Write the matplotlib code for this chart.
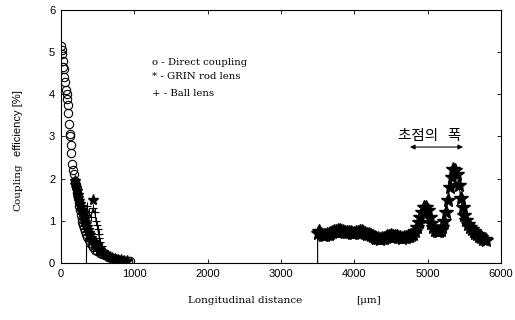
import matplotlib
matplotlib.use("Agg")
import matplotlib.pyplot as plt

# Direct coupling (open circles)
direct_x = [5, 10, 15, 25, 30, 40, 50, 60, 70, 80, 85, 95, 100, 110, 120, 125, 140, 145,
            155, 170, 180, 195, 205, 215, 225, 235, 245, 255, 265, 275, 285, 295, 305,
            315, 330, 345, 360, 380, 400, 420, 445, 470, 500, 530, 560, 600, 640, 680,
            720, 760, 800, 840, 880, 920, 950]
direct_y = [5.15, 5.05, 4.95, 4.8, 4.65, 4.6, 4.4, 4.3, 4.1, 4.0, 3.9, 3.75, 3.55, 3.3,
            3.05, 3.0, 2.8, 2.6, 2.35, 2.2, 2.1, 1.95, 1.85, 1.75, 1.65, 1.55, 1.45, 1.35,
            1.25, 1.15, 1.05, 0.97, 0.9, 0.83, 0.75, 0.68, 0.62, 0.55, 0.48, 0.42, 0.37,
            0.32, 0.28, 0.24, 0.21, 0.18, 0.15, 0.13, 0.11, 0.1, 0.08, 0.07, 0.06, 0.05,
            0.04]

# GRIN rod lens, short distance
grin_near_x = [190, 200, 210, 220, 230, 240, 250, 260, 270, 280, 290, 300, 310, 320, 330,
               340, 355, 370, 385, 400, 415, 430, 440, 450, 465, 480, 500, 520, 540, 560,
               585, 610, 640, 670, 700, 740, 780, 820, 860, 900]
grin_near_y = [1.95, 1.86, 1.78, 1.7, 1.62, 1.55, 1.47, 1.4, 1.33, 1.26, 1.2, 1.14, 1.08,
               1.02, 0.97, 0.92, 0.85, 0.78, 0.72, 0.66, 0.6, 0.55, 1.5, 0.5, 0.46, 0.42,
               0.38, 0.34, 0.3, 0.26, 0.22, 0.19, 0.16, 0.14, 0.12, 0.1, 0.08, 0.07, 0.06,
               0.05]

# GRIN rod lens, long distance (starts from zero at 3500)
grin_far_x = [3500, 3500, 3525, 3550, 3575, 3600, 3625, 3650, 3675, 3700, 3725, 3750, 3775,
              3800, 3825, 3850, 3875, 3900, 3925, 3950, 3975, 4000, 4025, 4050, 4075,
              4100, 4125, 4150, 4175, 4200, 4225, 4250, 4275, 4300, 4325, 4350, 4375,
              4400, 4425, 4450, 4475, 4500, 4525, 4550, 4575, 4600, 4625, 4650, 4675,
              4700, 4725, 4750, 4775, 4800, 4825, 4850, 4875, 4900, 4925, 4950, 4975,
              5000, 5025, 5050, 5075, 5100, 5125, 5150, 5175, 5200, 5225, 5250, 5275,
              5300, 5325, 5350, 5375, 5400, 5425, 5450, 5475, 5500, 5525, 5550, 5575,
              5600, 5625, 5650, 5675, 5700, 5725, 5750, 5775, 5800]
grin_far_y = [0, 0.72, 0.75, 0.68, 0.66, 0.66, 0.68, 0.70, 0.71, 0.73, 0.75, 0.77, 0.78,
              0.78, 0.76, 0.75, 0.74, 0.74, 0.73, 0.73, 0.72, 0.72, 0.73, 0.74, 0.75,
              0.75, 0.74, 0.72, 0.70, 0.68, 0.66, 0.64, 0.62, 0.60, 0.59, 0.58, 0.59,
              0.60, 0.62, 0.63, 0.65, 0.66, 0.65, 0.64, 0.63, 0.62, 0.61, 0.60, 0.61,
              0.62, 0.63, 0.64, 0.66, 0.70, 0.76, 0.85, 0.97, 1.10, 1.22, 1.32, 1.33,
              1.25, 1.10, 0.95, 0.85, 0.78, 0.76, 0.76, 0.79, 0.85, 1.00, 1.20, 1.50,
              1.80, 2.05, 2.22, 2.20, 2.10, 1.85, 1.55, 1.32, 1.15, 1.02, 0.92, 0.86,
              0.80, 0.76, 0.72, 0.68, 0.65, 0.61, 0.58, 0.56, 0.55]

# Ball lens (starts from zero at 350)
ball_x = [350, 355, 380, 410, 440, 465, 480, 495, 505, 515, 525, 540, 560, 590, 620, 660, 700]
ball_y = [0, 1.35, 1.2, 1.1, 1.3, 1.2, 1.0, 0.9, 0.8, 0.7, 0.6, 0.5, 0.4, 0.3, 0.22, 0.15, 0.1]

xticks = [0, 1000, 2000, 3000, 4000, 5000, 6000]
yticks = [0, 1, 2, 3, 4, 5, 6]

fig = plt.figure(figsize=(5.15, 3.2), dpi=100)
ax = fig.add_axes([0.118, 0.178, 0.855, 0.791])

ax.plot(ball_x, ball_y, color="black", lw=0.8, marker="+", ms=6, mew=0.8,
        markevery=slice(1, None))
ax.plot(grin_near_x, grin_near_y, ls="none", color="black", marker="*", ms=8)
ax.plot(grin_far_x, grin_far_y, color="black", lw=0.8, marker="*", ms=10,
        markevery=slice(1, None))
ax.plot(direct_x, direct_y, ls="none", marker="o", ms=6, mfc="none", mec="black", mew=0.8)

ax.set_xlim(0, 6000)
ax.set_ylim(0, 6)
ax.set_xticks(xticks)
ax.set_yticks(yticks)
ax.tick_params(direction="in", top=True, right=True, length=3, width=0.6,
               labelsize=8, pad=4)
for lab in ax.get_xticklabels() + ax.get_yticklabels():
    lab.set_family("Liberation Sans")
for s in ax.spines.values():
    s.set_linewidth(0.8)

# legend as text lines
ax.text(1240, 4.76, "o - Direct coupling", family="DejaVu Serif", fontsize=7.3, va="center")
ax.text(1240, 4.42, "* - GRIN rod lens", family="DejaVu Serif", fontsize=7.3, va="center")
ax.text(1240, 4.02, "+ - Ball lens", family="DejaVu Serif", fontsize=7.3, va="center")

# focal width annotation
ax.text(5030, 3.0, "초점의   폭", family=["Noto Sans CJK KR", "DejaVu Sans"],
        fontsize=10.5, ha="center", va="center")
ax.annotate("", xy=(4720, 2.75), xytext=(5520, 2.75),
            arrowprops=dict(arrowstyle="<|-|>", color="black", lw=0.8,
                            mutation_scale=7))

# axis labels
fig.text(0.035, 0.416, "Coupling", rotation=90, family="DejaVu Serif",
         fontsize=7.5, ha="center", va="center")
fig.text(0.035, 0.616, "efficiency [%]", rotation=90, family="Liberation Sans",
         fontsize=8, ha="center", va="center")
fig.text(0.475, 0.062, "Longitudinal distance", family="DejaVu Serif",
         fontsize=7.5, ha="center", va="center")
fig.text(0.715, 0.062, "[μm]", family="DejaVu Serif",
         fontsize=7.5, ha="center", va="center")

fig.savefig("out.png", dpi=100)
